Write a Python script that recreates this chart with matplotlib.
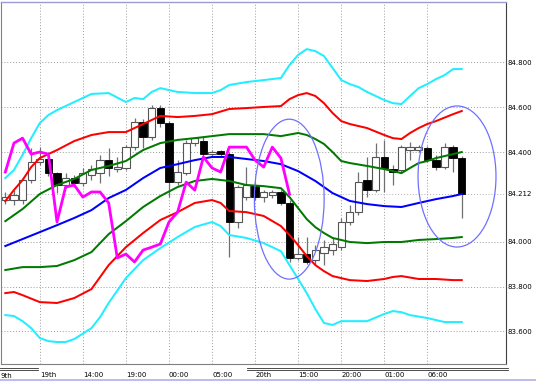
import matplotlib
matplotlib.use("Agg")
import matplotlib.pyplot as plt
from matplotlib.patches import Ellipse
import numpy as np

# ---------------- data ----------------
opens = [84.186, 84.186, 84.186, 84.275, 84.355, 84.369, 84.306, 84.253, 84.284, 84.262,
         84.297, 84.306, 84.364, 84.324, 84.329, 84.422, 84.534, 84.467, 84.596, 84.529,
         84.266, 84.306, 84.440, 84.449, 84.391, 84.404, 84.391, 84.088, 84.199, 84.253,
         84.199, 84.208, 84.222, 84.173, 83.928, 83.945, 83.918, 83.950, 83.963, 83.976,
         84.088, 84.132, 84.275, 84.230, 84.378, 84.324, 84.320, 84.409, 84.409, 84.418,
         84.364, 84.333, 84.422, 84.373]
highs = [84.220, 84.230, 84.290, 84.418, 84.422, 84.382, 84.310, 84.306, 84.297, 84.328,
         84.342, 84.386, 84.418, 84.378, 84.431, 84.552, 84.547, 84.609, 84.609, 84.538,
         84.364, 84.454, 84.467, 84.467, 84.409, 84.409, 84.400, 84.253, 84.333, 84.266,
         84.230, 84.230, 84.230, 84.186, 84.022, 84.022, 83.985, 84.008, 84.017, 84.106,
         84.164, 84.311, 84.378, 84.440, 84.454, 84.342, 84.431, 84.444, 84.431, 84.427,
         84.387, 84.440, 84.431, 84.382]
lows = [84.170, 84.163, 84.168, 84.260, 84.342, 84.293, 84.217, 84.240, 84.244, 84.248,
        84.275, 84.262, 84.293, 84.311, 84.320, 84.409, 84.418, 84.454, 84.511, 84.200,
        84.253, 84.297, 84.427, 84.382, 84.382, 84.382, 83.932, 84.061, 84.186, 84.186,
        84.177, 84.195, 84.164, 83.910, 83.918, 83.900, 83.896, 83.896, 83.940, 83.963,
        84.075, 84.119, 84.200, 84.222, 84.222, 84.253, 84.306, 84.364, 84.400, 84.356,
        84.319, 84.324, 84.311, 84.106]
closes = [84.199, 84.208, 84.275, 84.355, 84.369, 84.306, 84.253, 84.284, 84.262, 84.306,
          84.324, 84.364, 84.329, 84.333, 84.422, 84.534, 84.467, 84.596, 84.529, 84.266,
          84.311, 84.440, 84.462, 84.391, 84.400, 84.391, 84.088, 84.244, 84.253, 84.199,
          84.222, 84.222, 84.173, 83.928, 83.945, 83.910, 83.963, 83.976, 83.990, 84.088,
          84.132, 84.266, 84.230, 84.378, 84.329, 84.311, 84.422, 84.422, 84.422, 84.364,
          84.333, 84.422, 84.373, 84.212]
lag_shift = 20  # lagging (magenta) line = close plotted 20 bars back

# Bollinger-style bands: (bar index, price)
mid_idx = [0, 2, 4, 6, 8, 10, 12, 14, 16, 18, 20, 22, 24, 26, 28, 30, 32, 34, 36, 38, 40, 42, 44, 46, 48, 50, 52, 53]
mid_val = [83.981, 84.012, 84.043, 84.074, 84.106, 84.141, 84.195, 84.231, 84.284, 84.329, 84.346, 84.364,
           84.378, 84.378, 84.369, 84.360, 84.346, 84.315, 84.271, 84.217, 84.182, 84.168, 84.159, 84.155,
           84.173, 84.190, 84.204, 84.213]

up1_idx = [0, 2, 4, 6, 8, 10, 12, 14, 16, 18, 20, 22, 24, 26, 28, 30, 32, 34, 35, 36, 37, 38, 39, 40, 42, 44, 46, 47, 48, 49, 50, 52, 53]
up1_val = [84.092, 84.146, 84.213, 84.253, 84.280, 84.320, 84.338, 84.360, 84.409, 84.440, 84.454, 84.462,
           84.471, 84.480, 84.480, 84.480, 84.471, 84.485, 84.476, 84.458, 84.436, 84.400, 84.360, 84.351,
           84.338, 84.324, 84.306, 84.329, 84.351, 84.360, 84.373, 84.391, 84.400]

dn1_idx = [0, 2, 4, 6, 8, 10, 12, 14, 16, 18, 20, 22, 24, 26, 28, 30, 32, 33, 34, 35, 36, 37, 38, 40, 42, 44, 46, 48, 50, 52, 53]
dn1_val = [83.874, 83.887, 83.887, 83.892, 83.918, 83.954, 84.034, 84.092, 84.155, 84.204, 84.244, 84.271,
           84.280, 84.271, 84.253, 84.248, 84.239, 84.199, 84.150, 84.101, 84.065, 84.039, 84.017, 83.999,
           83.994, 83.999, 83.999, 84.008, 84.012, 84.017, 84.021]

up2_idx = [0, 1, 2, 3, 4, 6, 8, 10, 12, 14, 16, 18, 20, 22, 24, 26, 28, 30, 32, 33, 34, 35, 36, 37, 38, 39, 40, 42, 44, 45, 46, 47, 48, 49, 50, 52, 53]
up2_val = [84.181, 84.231, 84.275, 84.333, 84.373, 84.409, 84.449, 84.476, 84.489, 84.489, 84.525, 84.561,
           84.556, 84.561, 84.569, 84.592, 84.596, 84.601, 84.605, 84.636, 84.654, 84.663, 84.650, 84.618,
           84.574, 84.538, 84.525, 84.507, 84.476, 84.462, 84.458, 84.485, 84.507, 84.525, 84.538, 84.569, 84.583]

dn2_idx = [0, 1, 2, 4, 6, 8, 10, 12, 14, 16, 18, 20, 22, 24, 25, 26, 28, 30, 32, 33, 34, 35, 36, 37, 38, 40, 42, 44, 45, 46, 48, 50, 52, 53]
dn2_val = [83.771, 83.776, 83.762, 83.731, 83.727, 83.749, 83.789, 83.896, 83.976, 84.039, 84.097, 84.132,
           84.173, 84.186, 84.173, 84.137, 84.132, 84.115, 84.070, 84.030, 83.985, 83.936, 83.896, 83.869,
           83.847, 83.829, 83.825, 83.834, 83.843, 83.847, 83.834, 83.834, 83.829, 83.829]

up3_idx = [0, 1, 2, 3, 4, 5, 6, 8, 10, 12, 14, 15, 16, 17, 18, 20, 22, 24, 25, 26, 28, 30, 32, 33, 34, 35, 36, 37, 38, 39, 40, 41, 42, 43, 44, 45, 46, 47, 48, 49, 50, 51, 52, 53]
up3_val = [84.284, 84.320, 84.387, 84.462, 84.529, 84.565, 84.587, 84.623, 84.659, 84.663, 84.623, 84.641,
           84.636, 84.668, 84.685, 84.668, 84.663, 84.663, 84.676, 84.699, 84.712, 84.721, 84.730, 84.788,
           84.833, 84.859, 84.850, 84.828, 84.775, 84.721, 84.703, 84.690, 84.668, 84.650, 84.632, 84.618,
           84.614, 84.650, 84.685, 84.703, 84.725, 84.743, 84.770, 84.770]

dn3_idx = [0, 1, 2, 3, 4, 5, 6, 7, 8, 10, 11, 12, 14, 16, 18, 20, 22, 24, 25, 26, 28, 30, 32, 33, 34, 35, 36, 37, 38, 39, 40, 42, 44, 45, 46, 47, 49, 51, 53]
dn3_val = [83.673, 83.669, 83.646, 83.615, 83.571, 83.557, 83.553, 83.553, 83.566, 83.615, 83.664, 83.727,
           83.838, 83.918, 83.972, 84.021, 84.066, 84.088, 84.070, 84.030, 84.017, 83.994, 83.958, 83.896,
           83.834, 83.771, 83.700, 83.638, 83.629, 83.646, 83.646, 83.646, 83.678, 83.691, 83.686, 83.673,
           83.660, 83.642, 83.642]

# annotation ellipses: (centre bar index, centre price, width in bars, height in price)
ellipses = [(32.97, 84.190, 8.1, 0.713), (52.45, 84.291, 9.05, 0.629)]

grid_idx = [4, 9, 14, 19, 24, 29, 34, 39, 44, 49]
time_labels = ["19th", "14:00", "19:00", "00:00", "05:00", "20th", "15:00", "20:00", "01:00", "06:00"]
first_label = "9th"
price_ticks = [83.6, 83.8, 84.0, 84.4, 84.6, 84.8]
last_price = 84.212

# ---------------- figure ----------------
W, H = 536, 381
fig = plt.figure(figsize=(W / 100, H / 100), dpi=100)
fig.patch.set_facecolor("white")
ax = fig.add_axes([0.5 / W, 1 - 364 / H, 505 / W, 362 / H])
ax.set_facecolor("white")

x_lo, x_hi = -0.561, 58.08
ax.set_xlim(x_lo, x_hi)
ax.set_ylim(83.455, 85.069)

# grid
for gx in grid_idx:
    ax.axvline(gx, color="#9a9a9a", lw=0.7, ls=(0, (1, 2)), zorder=0)
for gy in price_ticks:
    ax.axhline(gy, color="#9a9a9a", lw=0.7, ls=(0, (1, 2)), zorder=0)
ax.axhline(last_price, color="#b0b0b0", lw=0.7, ls=(0, (1, 2)), zorder=0)

# candles
n = len(closes)
xs = np.arange(n)
o = np.array(opens); c = np.array(closes); h = np.array(highs); l = np.array(lows)
ax.vlines(xs, l, h, color="#707070", lw=0.9, zorder=2)
bull = c >= o
bw = 0.85
ax.bar(xs[bull], (c - o)[bull], bottom=o[bull], width=bw, color="white",
       edgecolor="#555555", linewidth=0.8, zorder=3)
ax.bar(xs[~bull], (o - c)[~bull], bottom=c[~bull], width=bw, color="black",
       edgecolor="black", linewidth=0.6, zorder=3)

# bands
lw = 1.45
ax.plot(dn3_idx, dn3_val, color="#22eeff", lw=lw, zorder=4)
ax.plot(up3_idx, up3_val, color="#22eeff", lw=lw, zorder=4)
ax.plot(dn2_idx, dn2_val, color="#ff0000", lw=lw, zorder=4)
ax.plot(up2_idx, up2_val, color="#ff0000", lw=lw, zorder=4)
ax.plot(dn1_idx, dn1_val, color="#007a00", lw=lw, zorder=4)
ax.plot(up1_idx, up1_val, color="#007a00", lw=lw, zorder=4)
ax.plot(mid_idx, mid_val, color="#0000ff", lw=lw, zorder=4)

# lagging line
lag = closes[lag_shift:]
ax.plot(np.arange(len(lag)), lag, color="#ff00ff", lw=2.0, zorder=5)

# ellipses
for ex, ey, ew, eh in ellipses:
    ax.add_patch(Ellipse((ex, ey), ew, eh, fill=False, edgecolor="#7070ff", lw=0.9, zorder=6))

# spines
for s in ["left", "bottom", "right"]:
    ax.spines[s].set_color("#808080")
    ax.spines[s].set_linewidth(0.8)
ax.spines["right"].set_color("#404040")
ax.spines["top"].set_color("#9c9cd0")
ax.spines["top"].set_linewidth(1.0)

# price labels
ax.yaxis.tick_right()
ax.set_yticks(price_ticks)
ax.set_yticklabels([f"{p:.3f}" for p in price_ticks])
ax.tick_params(axis="y", length=0, pad=1.5, labelsize=5, labelcolor="black")
ax.text(1.003, last_price, f"{last_price:.3f}", transform=ax.get_yaxis_transform(),
        fontsize=5, va="center", ha="left", color="black")

# time labels
ax.set_xticks(grid_idx)
ax.set_xticklabels(time_labels)
ax.tick_params(axis="x", length=0, pad=5.5, labelsize=5, labelcolor="black")
for t in ax.get_xticklabels():
    t.set_horizontalalignment("left")
ax.text(x_lo, -0.026, first_label, transform=ax.get_xaxis_transform(), fontsize=5,
        va="top", ha="left", color="black")

# period separator lines below the axis and frame lines
for yy in (367.5, 369.5):
    fig.add_artist(plt.Line2D([0, 38 / W], [1 - yy / H] * 2, color="#303030", lw=0.6))
    fig.add_artist(plt.Line2D([247 / W, 508 / W], [1 - yy / H] * 2, color="#303030", lw=0.6))
fig.add_artist(plt.Line2D([0, 1], [1 - 380 / H] * 2, color="#b0b0e8", lw=1.2))

fig.savefig("out.png", dpi=100)
